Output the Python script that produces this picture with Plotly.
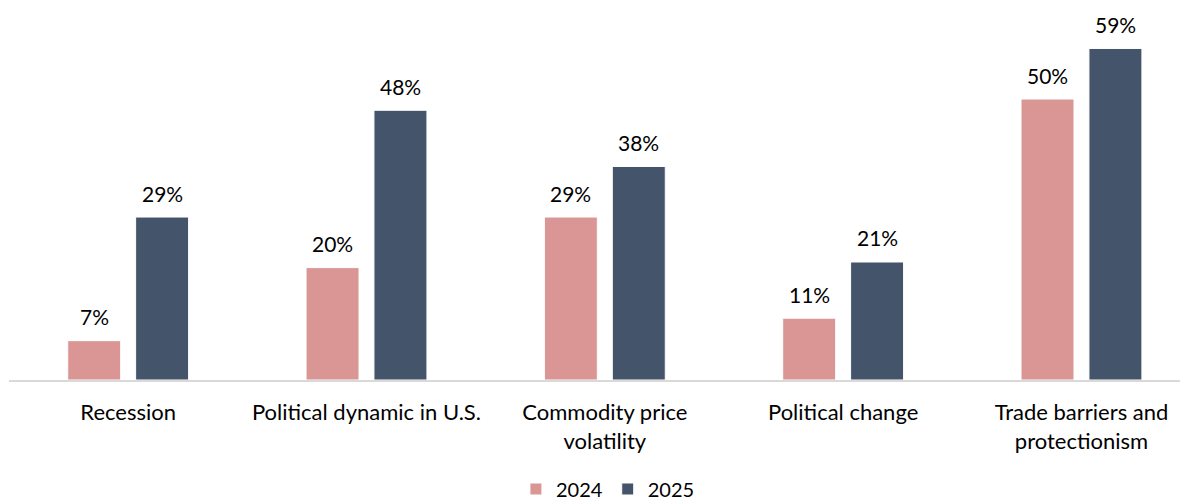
import plotly.graph_objects as go

# categories along the x axis (line breaks as in the original labels)
categories = [
    "Recession",
    "Political dynamic in U.S.",
    "Commodity price<br>volatility",
    "Political change",
    "Trade barriers and<br>protectionism",
]

# share of respondents, in %
values_2024 = [7, 20, 29, 11, 50]
values_2025 = [29, 48, 38, 21, 59]

series_names = ["2024", "2025"]
colors = ["#DA9694", "#44546A"]

font_family = "Lato, 'Open Sans', sans-serif"

fig = go.Figure()

for name, vals, col in zip(series_names, [values_2024, values_2025], colors):
    fig.add_trace(go.Bar(
        x=categories,
        y=vals,
        name=name,
        marker=dict(color=col, line=dict(color="white", width=1)),
        hoverinfo="skip",
    ))

# value labels sit well above each bar, so use annotations rather than bar text
bar_shift = 34
for name, vals, shift in zip(series_names, [values_2024, values_2025], [-bar_shift, bar_shift]):
    for cat, v in zip(categories, vals):
        fig.add_annotation(
            x=cat, y=v, text=f"{v}%",
            xref="x", yref="y",
            xshift=shift, yshift=24,
            yanchor="middle",
            showarrow=False,
            font=dict(size=21, color="#000000", family=font_family),
        )

# the page body has an 8px default margin, so the figure is 8px smaller each way
fig.update_layout(
    width=1180,
    height=494,
    margin=dict(l=1, r=0, t=0, b=122, autoexpand=False),
    plot_bgcolor="white",
    paper_bgcolor="white",
    barmode="group",
    bargap=0.43,
    bargroupgap=0.22,
    font=dict(family=font_family, color="#000000"),
    showlegend=True,
    legend=dict(
        orientation="h",
        x=0.508, xanchor="center",
        y=-0.293, yanchor="middle",
        font=dict(size=20, color="#000000"),
        itemclick=False,
        traceorder="normal",
        tracegroupgap=0,
    ),
)

fig.update_xaxes(
    type="category",
    range=[-0.5, 4.447],
    showline=True,
    linecolor="#D9D9D9",
    linewidth=1.5,
    ticks="outside",
    ticklen=12,
    tickcolor="rgba(0,0,0,0)",
    tickfont=dict(size=22, color="#000000"),
    showgrid=False,
    zeroline=False,
    automargin=False,
)

fig.update_yaxes(
    range=[0, 66.2],
    visible=False,
    showgrid=False,
    zeroline=False,
    automargin=False,
)

fig.write_html("out.html")
